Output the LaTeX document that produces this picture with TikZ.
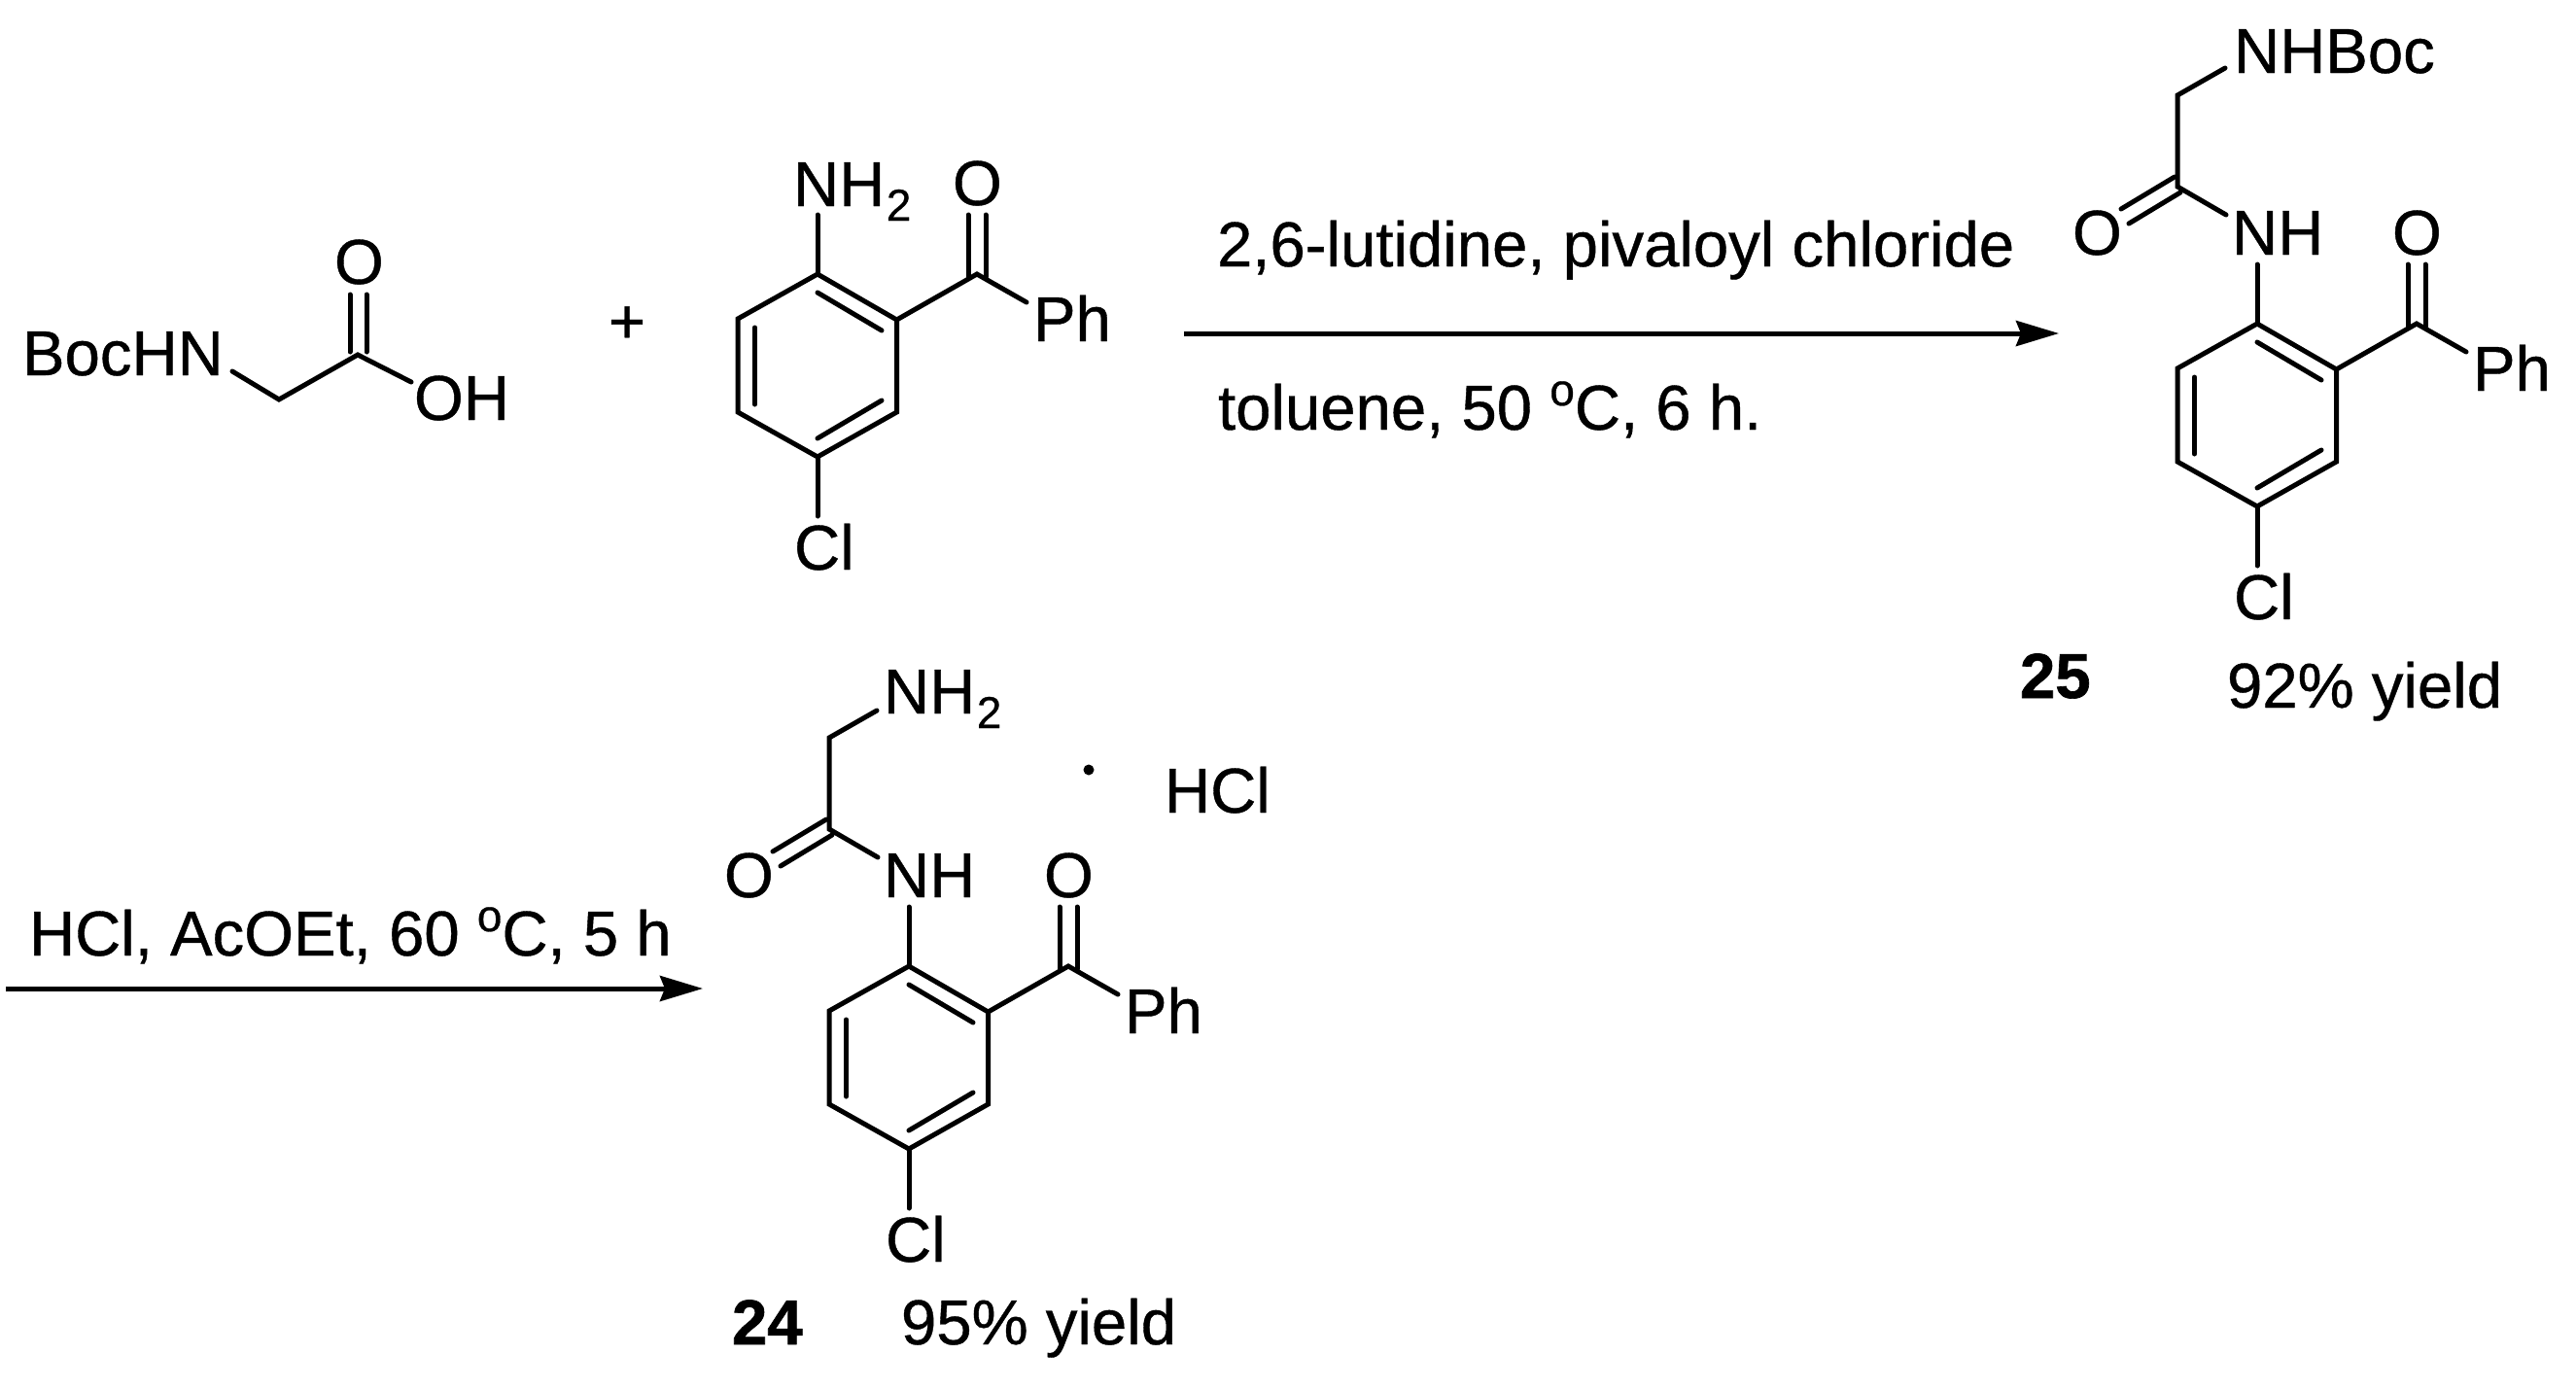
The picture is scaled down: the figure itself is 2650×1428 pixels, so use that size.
\documentclass[tikz,border=0pt]{standalone}
\usepackage{fontspec}
\setmainfont[RawFeature={embolden=0.6},BoldFeatures={RawFeature={embolden=1.0}}]{Liberation Sans}
\usetikzlibrary{arrows.meta}
\newcommand{\subtwo}{\hspace{1.5pt}\raisebox{-15pt}{\fontsize{46}{46}\selectfont 2}}
\newcommand{\degr}{\raisebox{25pt}{\fontsize{46}{46}\selectfont o}}
\tikzset{
  x=1pt,y=-1pt,
  bond/.style={line width=5pt,line cap=round,line join=miter,black},
  lab/.style={inner sep=0pt,outer sep=0pt,anchor=base west,font=\fontsize{65.3}{70}\selectfont,text=black},
  blab/.style={lab,font=\fontsize{65.3}{70}\selectfont\bfseries},
  rxn/.style={line width=5pt,black,-{Stealth[length=44pt,width=26pt,inset=5pt]}},
  ketoring/.pic={
    \coordinate (-a) at (0,0);
    \coordinate (-b) at (81.5,47);
    \coordinate (-c) at (81.5,142);
    \coordinate (-d) at (0,188);
    \coordinate (-e) at (-82,142);
    \coordinate (-f) at (-82,46);
    \coordinate (-k) at (164,0);
    \draw[bond] (-a) -- (-b) -- (-c) -- (-d) -- (-e) -- (-f) -- cycle;
    \draw[bond] (0,19) -- (66,58);
    \draw[bond] (66,130) -- (0,169);
    \draw[bond] (-64.5,55) -- (-64.5,134);
    \draw[bond] (-b) -- (-k) -- (215,29);
    \draw[bond] (155,-61) -- (155,3);
    \draw[bond] (173,-61) -- (173,3);
    \draw[bond] (-a) -- (0,-61);
    \draw[bond] (-d) -- (0,249);
    \node[lab] (-ph) at (222,69) {Ph};
    \node[lab] (-cl) at (-24,304) {Cl};
    \node[lab] (-o) at (139,-71) {O};
  },
  amide/.pic={
    \coordinate (-m) at (-82,-235);
    \coordinate (-c) at (-82,-141);
    \draw[bond] (-33,-263) -- (-m) -- (-c) -- (-32,-112);
    \draw[bond] (-85,-151) -- (-140,-118);
    \draw[bond] (-79,-135) -- (-132,-103);
    \node[lab] (-oo) at (-190,-71) {O};
    \node[lab] (-nh) at (-26,-71) {NH};
  }
}
\begin{document}
\begin{tikzpicture}
\useasboundingbox (0,0) rectangle (2650,1428);
% glycine
\coordinate (g1) at (239,382);
\coordinate (g2) at (287,411);
\coordinate (g3) at (368,365);
\coordinate (g4) at (423,393);
\draw[bond] (g1) -- (g2) -- (g3) -- (g4);
\draw[bond] (360,303) -- (360,362);
\draw[bond] (377,303) -- (377,362);
\node[lab] (bochn) at (23,386) {BocHN};
\node[lab] (go) at (344,292) {O};
\node[lab] (goh) at (426,432) {OH};
\node[lab] (plus) at (626,353) {+};
% aminobenzophenone
\pic (r) at (841,282) {ketoring};
\node[lab] (rn) at (816,212) {NH\subtwo};
% arrow 1
\coordinate (a1s) at (1218,343);
\coordinate (a1e) at (2118,343);
\draw[rxn] (a1s) -- (a1e);
\node[lab] (c1) at (1252,274) {2,6-lutidine, pivaloyl chloride};
\node[lab] (c2) at (1253,442) {toluene, 50 \degr C, 6 h.};
% product 25
\pic (p) at (2322,333) {ketoring};
\pic (pa) at (2322,333) {amide};
\node[lab] (boc) at (2298,75) {NHBoc};
\node[blab] (n25) at (2078,718) {25};
\node[lab] (y25) at (2291,728) {92\% yield};
% arrow 2
\coordinate (a2s) at (6,1017);
\coordinate (a2e) at (723,1017);
\draw[rxn] (a2s) -- (a2e);
\node[lab] (c3) at (30,983) {HCl, AcOEt, 60 \degr C, 5 h};
% product 24
\pic (q) at (935,994) {ketoring};
\pic (qa) at (935,994) {amide};
\node[lab] (qn) at (909,734) {NH\subtwo};
\fill[black] (1120,792) circle[radius=5.5];
\node[lab] (hcl) at (1198,836) {HCl};
\node[blab] (n24) at (753,1383) {24};
\node[lab] (y24) at (927,1383) {95\% yield};
\end{tikzpicture}
\end{document}
